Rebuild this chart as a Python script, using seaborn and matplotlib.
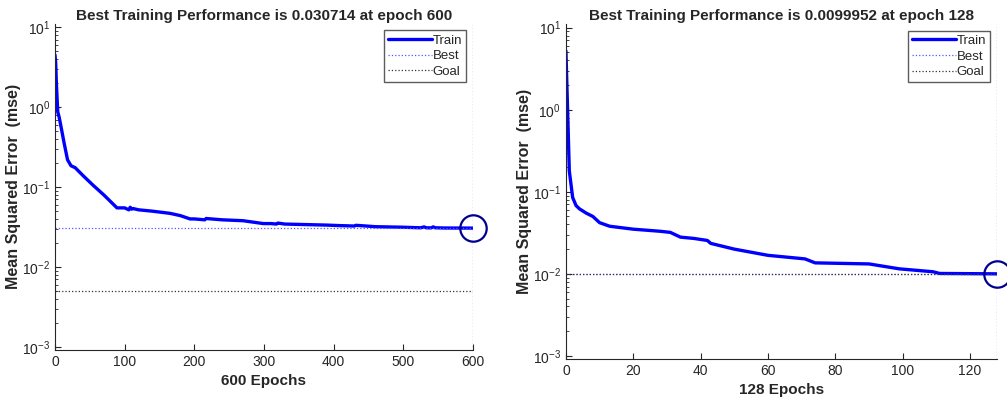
import numpy as np
import pandas as pd
import seaborn as sns
import matplotlib.pyplot as plt

# left run: 600 epochs
epochs_a = [0, 1, 2, 3, 4, 6, 9, 13, 18, 23, 29, 40, 55, 70, 79, 89, 100, 106, 108, 110, 112, 120, 140, 165, 180, 194, 200, 215, 217, 240, 270, 299, 310, 318, 320, 330, 360, 390, 409, 420, 430, 432, 460, 500, 525, 530, 533, 540, 543, 546, 560, 600]
mse_a = [4.5, 3.6, 2.0, 1.3, 0.87, 0.75, 0.55, 0.36, 0.22, 0.185, 0.175, 0.14, 0.105, 0.08, 0.067, 0.055, 0.055, 0.052, 0.056, 0.053, 0.054, 0.052, 0.050, 0.047, 0.044, 0.040, 0.040, 0.039, 0.0405, 0.039, 0.038, 0.035, 0.035, 0.0345, 0.0355, 0.0345, 0.034, 0.0335, 0.033, 0.0328, 0.0326, 0.0333, 0.032, 0.0315, 0.031, 0.0318, 0.031, 0.0309, 0.0318, 0.031, 0.0308, 0.030714]
best_a = 0.030714
goal_a = 0.005
title_a = "Best Training Performance is 0.030714 at epoch 600"

# right run: 128 epochs
epochs_b = [0, 1, 2, 3, 4, 6, 8, 10, 13, 20, 28, 31, 34, 38, 42, 43, 50, 60, 71, 74, 90, 99, 109, 111, 128]
mse_b = [5.2, 0.18, 0.085, 0.068, 0.062, 0.055, 0.05, 0.042, 0.038, 0.035, 0.033, 0.032, 0.028, 0.027, 0.0255, 0.0235, 0.020, 0.0168, 0.0152, 0.0136, 0.0132, 0.0115, 0.0106, 0.0101, 0.0099952]
best_b = 0.0099952
goal_b = 0.01
title_b = "Best Training Performance is 0.0099952 at epoch 128"

sns.set_style("ticks")
plt.rcParams['font.family'] = ['Liberation Sans', 'DejaVu Sans']
plt.rcParams['mathtext.fontset'] = 'custom'
plt.rcParams['mathtext.rm'] = 'Liberation Sans'

fig = plt.figure(figsize=(10.07, 4.05), dpi=100)
ax1 = fig.add_axes([0.0546, 0.136, 0.415, 0.805])
ax2 = fig.add_axes([0.562, 0.114, 0.428, 0.826])

panels = [
    (ax1, epochs_a, mse_a, best_a, goal_a, 600, 100, title_a),
    (ax2, epochs_b, mse_b, best_b, goal_b, 128, 20, title_b),
]

for ax, ep, mse, best, goal, n, step, title in panels:
    df = pd.DataFrame({"epoch": ep, "mse": mse})
    sns.lineplot(x="epoch", y="mse", data=df, ax=ax, color='#0000ff', lw=2.4, label='Train')
    ax.plot([0, n], [best, best], ls=':', color='#5555ff', lw=0.9, label='Best')
    ax.axvline(n, ls=':', color='#5555ff', lw=0.9)
    ax.plot([0, n], [goal, goal], ls=':', color='#333333', lw=0.9, label='Goal')
    ax.plot([n], [best], 'o', mfc='none', mec='#000090', ms=19, mew=1.6, clip_on=False)
    ax.set_yscale('log')
    ax.set_ylim(0.00092, 11)
    ax.set_xlim(0, n)
    ax.set_xticks(np.arange(0, n + 1, step))
    ax.tick_params(direction='in', labelsize=10, colors='#262626', length=4)
    ax.tick_params(which='minor', direction='in', length=2.5)
    ax.set_xlabel("%d Epochs" % n, fontsize=11, fontweight='bold', color='#262626')
    ax.set_ylabel("Mean Squared Error  (mse)", fontsize=11.5, fontweight='bold', color='#262626', labelpad=1)
    ax.set_title(title, fontsize=11, fontweight='bold', pad=3)
    leg = ax.legend(loc='upper right', fontsize=9.5, frameon=True, fancybox=False,
                    borderpad=0.3, labelspacing=0.25, handlelength=3.3, handletextpad=0.1,
                    borderaxespad=0.5)
    leg.get_frame().set_edgecolor('#333333')
    leg.get_frame().set_linewidth(1.0)
    sns.despine(ax=ax)
    for s in ['left', 'bottom']:
        ax.spines[s].set_color('#262626')

plt.savefig("out.png", dpi=100)
